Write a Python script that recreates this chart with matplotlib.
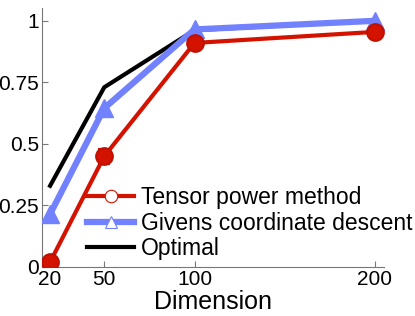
import matplotlib
matplotlib.use("Agg")
import matplotlib.pyplot as plt
from matplotlib.lines import Line2D

plt.rcParams["font.family"] = ["Liberation Sans", "DejaVu Sans"]

dims = [20, 50, 100, 200]
tensor_power = [0.02, 0.45, 0.91, 0.955]
tensor_err = [0.0, 0.03, 0.0, 0.0]
givens = [0.215, 0.645, 0.965, 1.0]
optimal = [0.33, 0.73, 0.962, 1.0]

red = "#d41200"
blue = "#7282ff"

fig = plt.figure(figsize=(4.15, 3.16), dpi=100)
ax = fig.add_axes([42 / 415, 1 - 267 / 316, (384 - 42) / 415, (267 - 8) / 316])

ax.plot(dims, optimal, color="black", linewidth=3, zorder=2)
ax.plot(dims, givens, color=blue, linewidth=4.5, marker="^", markersize=13, zorder=3)
ax.errorbar(dims, tensor_power, yerr=tensor_err, color=red, linewidth=3,
            marker="o", markersize=12, markeredgewidth=1.5, markeredgecolor="#c01000",
            elinewidth=2, capsize=4, capthick=2, zorder=4)

ax.set_xlim(15.5, 205)
ax.set_ylim(0, 1.052)
ax.set_xticks(dims)
ax.set_yticks([0, 0.25, 0.5, 0.75, 1])
ax.set_yticklabels(["0", "0.25", "0.5", "0.75", "1"])
ax.tick_params(labelsize=15, color="#777777", direction="in", length=4, pad=2)
for side in ["top", "right"]:
    ax.spines[side].set_visible(False)
for side in ["left", "bottom"]:
    ax.spines[side].set_color("#777777")
ax.set_xlabel("Dimension", fontsize=18, labelpad=1)

handles = [
    Line2D([], [], color=red, linewidth=3, marker="o", markersize=9,
           markerfacecolor="white", markeredgewidth=0.8),
    Line2D([], [], color=blue, linewidth=4.5, marker="^", markersize=9,
           markerfacecolor="white", markeredgewidth=0.8),
    Line2D([], [], color="black", linewidth=3),
]
ax.legend(handles, ["Tensor power method", "Givens coordinate descent", "Optimal"],
          loc="lower left", bbox_to_anchor=(0.105, -0.01), frameon=False,
          fontsize=16.5, handlelength=2.05, handletextpad=0.3, labelspacing=0.12,
          borderaxespad=0)

fig.savefig("out.png", dpi=100)
